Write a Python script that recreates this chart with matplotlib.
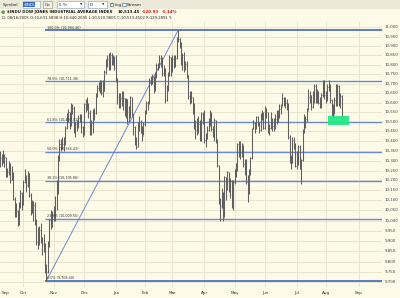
import matplotlib
matplotlib.use('Agg')
import matplotlib.pyplot as plt
import numpy as np
from matplotlib.patches import Rectangle, Circle

# ---------------- DATA (DJIA daily, Sep 9 2004 - Aug 16 2005) ----------------
month_labels = ['Sep', 'Oct', 'Nov', 'Dec', 'Jan', 'Feb', 'Mar', 'Apr', 'May', 'Jun', 'Jul', 'Aug', 'Sep']
month_days = [16, 21, 21, 22, 20, 19, 22, 21, 21, 22, 20, 23]   # trading days per month on the axis

close = [
    # Sep 2004
    10313, 10314, 10314, 10318, 10231, 10244, 10284, 10204, 10244, 10109, 10038, 10047, 9988, 10077, 10136, 10080,
    # Oct
    10192, 10216, 10177, 10239, 10126, 10055, 10081, 10077, 10002, 9894, 9933, 9956, 9897, 9886, 9865, 9758, 9749, 9888, 10002, 10004, 10027,
    # Nov
    10054, 10035, 10137, 10314, 10387, 10391, 10386, 10385, 10470, 10539, 10550, 10487, 10573, 10573, 10456, 10489, 10492, 10520, 10522, 10475, 10428,
    # Dec
    10590, 10585, 10592, 10547, 10440, 10494, 10553, 10543, 10638, 10676, 10691, 10705, 10649, 10661, 10759, 10815, 10828, 10776, 10854, 10829, 10829, 10783,
    # Jan 2005
    10729, 10630, 10597, 10622, 10603, 10622, 10556, 10618, 10505, 10558, 10628, 10539, 10472, 10393, 10368, 10461, 10498, 10467, 10427, 10490,
    # Feb
    10551, 10596, 10593, 10716, 10715, 10725, 10664, 10749, 10796, 10791, 10837, 10834, 10754, 10785, 10611, 10673, 10748, 10841, 10766,
    # Mar
    10830, 10811, 10834, 10941, 10937, 10913, 10806, 10852, 10775, 10805, 10745, 10633, 10627, 10629, 10566, 10471, 10457, 10442, 10486, 10405, 10541, 10504,
    # Apr
    10404, 10421, 10458, 10486, 10546, 10461, 10448, 10507, 10403, 10278, 10087, 10071, 10127, 10012, 10218, 10157, 10242, 10152, 10198, 10071, 10192,
    # May
    10251, 10256, 10384, 10340, 10345, 10384, 10281, 10300, 10190, 10140, 10252, 10313, 10464, 10494, 10471, 10523, 10503, 10457, 10538, 10542, 10467,
    # Jun
    10550, 10553, 10460, 10467, 10483, 10476, 10503, 10512, 10522, 10547, 10566, 10578, 10623, 10609, 10596, 10587, 10421, 10297, 10290, 10406, 10374, 10275,
    # Jul
    10303, 10371, 10270, 10302, 10449, 10519, 10514, 10557, 10628, 10641, 10575, 10646, 10689, 10627, 10652, 10597, 10580, 10637, 10705, 10641,
    # Aug
    10623, 10683, 10698, 10611, 10558, 10536, 10615, 10594, 10686, 10600, 10634, 10513,
]

high = [
    10350, 10335, 10355, 10335, 10320, 10265, 10300, 10290, 10275, 10245, 10115, 10085, 10050, 10090, 10150, 10140,
    10200, 10260, 10230, 10250, 10240, 10135, 10100, 10095, 10090, 10010, 9970, 9975, 9990, 9920, 9935, 9890, 9790, 9900, 10010, 10050, 10045,
    10070, 10120, 10200, 10330, 10410, 10410, 10420, 10420, 10480, 10545, 10565, 10550, 10600, 10590, 10580, 10500, 10510, 10535, 10540, 10540, 10480,
    10600, 10620, 10630, 10600, 10560, 10510, 10565, 10570, 10650, 10690, 10710, 10720, 10720, 10720, 10770, 10830, 10850, 10860, 10868, 10860, 10850, 10845,
    10850, 10730, 10650, 10650, 10660, 10660, 10625, 10625, 10620, 10580, 10635, 10630, 10540, 10480, 10420, 10500, 10530, 10510, 10480, 10500,
    10560, 10610, 10610, 10730, 10740, 10750, 10740, 10760, 10810, 10810, 10850, 10850, 10840, 10800, 10780, 10690, 10760, 10850, 10840,
    10850, 10850, 10850, 10950, 10984, 10945, 10920, 10860, 10870, 10820, 10820, 10745, 10660, 10660, 10630, 10600, 10510, 10520, 10530, 10510, 10550, 10550,
    10560, 10440, 10480, 10520, 10560, 10550, 10480, 10520, 10510, 10410, 10280, 10110, 10160, 10140, 10225, 10220, 10250, 10245, 10210, 10200, 10200,
    10260, 10290, 10390, 10400, 10400, 10390, 10380, 10310, 10310, 10230, 10260, 10320, 10470, 10510, 10500, 10530, 10530, 10500, 10545, 10560, 10550,
    10580, 10570, 10550, 10490, 10550, 10520, 10520, 10540, 10560, 10560, 10590, 10590, 10650, 10630, 10630, 10620, 10600, 10430, 10330, 10420, 10420, 10390,
    10350, 10380, 10380, 10310, 10460, 10540, 10530, 10570, 10670, 10660, 10640, 10660, 10700, 10700, 10670, 10660, 10630, 10650, 10720, 10720,
    10660, 10700, 10720, 10700, 10620, 10590, 10630, 10700, 10700, 10690, 10650, 10640,
]

low = [
    10270, 10275, 10290, 10270, 10215, 10215, 10230, 10185, 10200, 10100, 10020, 10020, 9975, 9980, 10060, 10050,
    10075, 10185, 10140, 10165, 10115, 10030, 10040, 10000, 9980, 9880, 9860, 9880, 9890, 9830, 9845, 9745, 9708, 9745, 9870, 9960, 9970,
    10000, 10000, 10050, 10130, 10300, 10350, 10360, 10350, 10380, 10465, 10500, 10460, 10480, 10540, 10440, 10420, 10450, 10470, 10500, 10440, 10420,
    10430, 10550, 10560, 10520, 10430, 10430, 10440, 10510, 10540, 10630, 10660, 10650, 10640, 10630, 10660, 10750, 10790, 10770, 10770, 10800, 10800, 10770,
    10710, 10590, 10570, 10570, 10580, 10560, 10530, 10520, 10490, 10500, 10520, 10530, 10430, 10380, 10360, 10370, 10450, 10440, 10400, 10430,
    10480, 10540, 10560, 10590, 10690, 10700, 10650, 10660, 10730, 10770, 10780, 10790, 10740, 10740, 10600, 10610, 10660, 10740, 10740,
    10760, 10780, 10790, 10830, 10920, 10890, 10800, 10770, 10760, 10770, 10730, 10620, 10590, 10600, 10540, 10460, 10410, 10430, 10440, 10400, 10400, 10490,
    10390, 10370, 10410, 10450, 10480, 10450, 10420, 10400, 10390, 10270, 10080, 10000, 10060, 10000, 10020, 10100, 10150, 10140, 10110, 10060, 10050,
    10180, 10220, 10250, 10320, 10310, 10320, 10270, 10230, 10180, 10090, 10130, 10230, 10310, 10460, 10440, 10460, 10480, 10440, 10450, 10510, 10460,
    10460, 10520, 10440, 10430, 10460, 10450, 10450, 10460, 10490, 10500, 10520, 10540, 10580, 10580, 10570, 10560, 10410, 10290, 10260, 10290, 10360, 10270,
    10260, 10280, 10260, 10180, 10300, 10440, 10470, 10500, 10560, 10600, 10560, 10570, 10600, 10600, 10600, 10590, 10570, 10570, 10630, 10620,
    10600, 10610, 10660, 10600, 10530, 10520, 10540, 10580, 10580, 10580, 10570, 10511,
]

fib_pct = ['0.0%', '23.6%', '38.2%', '50.0%', '61.8%', '78.6%', '100.0%']
fib_values = [9708.40, 10009.55, 10195.86, 10346.43, 10497.01, 10711.38, 10984.46]

y_ticks = list(range(9700, 11001, 50))

# ---------------- FIGURE ----------------
W, H = 400, 298
BG = '#FDFBE7'
fig = plt.figure(figsize=(W / 100, H / 100), dpi=100)
fig.patch.set_facecolor(BG)


def rect(l, t, r, b):
    return [l / W, 1 - b / H, (r - l) / W, (b - t) / H]


ax = fig.add_axes(rect(0, 22, 382, 287))
ax.set_facecolor(BG)
ax.set_yscale('log')
ax.set_ylim(9677.5, 11029.9)
ax.set_xlim(-0.104, 263.9)
for s in ax.spines.values():
    s.set_visible(False)
ax.set_xticks([])
ax.set_yticks([])
ax.minorticks_off()
ax.yaxis.set_minor_locator(matplotlib.ticker.NullLocator())

n = min(len(close), len(high), len(low))
idx = np.arange(n)

# grid
grid_c = '#E6E3CB'
for v in y_ticks:
    ax.axhline(v, color=grid_c, lw=0.6, zorder=0)
starts = np.concatenate([[0], np.cumsum(month_days)])
month_pos = [int(starts[i]) for i in range(1, len(month_labels))]
for p in month_pos:
    ax.axvline(p, color=grid_c, lw=0.6, zorder=0)

# fib lines
i_low = int(np.argmin(low[:n]))
i_high = int(np.argmax(high[:n]))
fib_c = '#6B89CF'
for pct, v in zip(fib_pct, fib_values):
    edge = pct in ('0.0%', '100.0%')
    ax.hlines(v, i_low - 0.8, 263.9, color='#4E6FC4' if edge else fib_c,
              lw=1.3 if edge else 1.0, zorder=2)
    ax.text(i_low + 0.3, v * 1.0004, f'{pct} ({v:,.2f})', fontsize=2.4,
            color='#333333', ha='left', va='bottom', zorder=4)

# trend line low -> high
ax.plot([i_low, i_high], [fib_values[0], fib_values[-1]], color='#6B89CF', lw=0.7, zorder=2)

# highlight box around 61.8% level near the last bars
hl_level = fib_values[4]
ax.add_patch(Rectangle((n - 10.4, hl_level * 0.99867), 14.5, hl_level * (1.00314 - 0.99867),
                       facecolor='#1FE882', edgecolor='none', alpha=0.92, zorder=5))

# OHLC bars
bar_c = '#606060'
ax.vlines(idx, low[:n], high[:n], color=bar_c, lw=0.75, zorder=3)
ax.hlines(close[:n], idx, idx + 0.5, color=bar_c, lw=0.6, zorder=3)

# right axis labels
ytr = ax.get_yaxis_transform()
for v in y_ticks:
    ax.text(1 + 3 / 382, v, f'{v:,}', transform=ytr, fontsize=2.9, color='#444444',
            ha='left', va='center', clip_on=False)

# month labels
xtr = ax.get_xaxis_transform()
label_pos = [4] + month_pos
for lab, p in zip(month_labels, label_pos):
    ax.text(p, -4 / 265, lab, transform=xtr, fontsize=3.0, color='#333333',
            ha='center', va='top', clip_on=False)

# ---------------- HEADER (overlay in pixel coords) ----------------
ov = fig.add_axes([0, 0, 1, 1])
ov.set_xlim(0, W)
ov.set_ylim(H, 0)
ov.axis('off')
ov.patch.set_alpha(0)

ov.add_patch(Rectangle((0, 0), W, 9, facecolor='#ECE9D8', edgecolor='none'))
fs = 3.0
ov.text(3, 4.8, 'Symbol', fontsize=fs, va='center', ha='left', color='#222222')
ov.add_patch(Rectangle((22.5, 1.2), 17, 6.6, facecolor='white', edgecolor='#7F9DB9', lw=0.4))
ov.add_patch(Rectangle((23.3, 2.0), 11.5, 5.0, facecolor='#316AC5', edgecolor='none'))
ov.text(23.6, 4.6, '$INDU', fontsize=fs, va='center', ha='left', color='white')
ov.add_patch(Rectangle((43, 1.2), 8.5, 6.6, facecolor='#F4F2E8', edgecolor='#8A8A7A', lw=0.4))
ov.text(47.2, 4.6, 'Go', fontsize=fs, va='center', ha='center', color='#222222')
ov.add_patch(Rectangle((57, 1.2), 27, 6.6, facecolor='white', edgecolor='#7F9DB9', lw=0.4))
ov.text(59, 4.6, '5 Yr', fontsize=fs, va='center', ha='left', color='#222222')
ov.text(81.5, 4.6, '\u25BC', fontsize=2.2, va='center', ha='center', color='#333333')
ov.add_patch(Rectangle((88, 1.2), 18.5, 6.6, facecolor='white', edgecolor='#7F9DB9', lw=0.4))
ov.text(90, 4.6, 'D', fontsize=fs, va='center', ha='left', color='#222222')
ov.text(103, 4.6, '\u25BC', fontsize=2.2, va='center', ha='center', color='#333333')
ov.add_patch(Rectangle((109.5, 2.6), 3.6, 3.6, facecolor='white', edgecolor='#1C5180', lw=0.4))
ov.text(111.3, 4.4, '\u2713', fontsize=3.0, va='center', ha='center', color='#21A121')
ov.text(114.5, 4.6, 'Log', fontsize=fs, va='center', ha='left', color='#222222')
ov.add_patch(Rectangle((122, 2.6), 3.6, 3.6, facecolor='white', edgecolor='#1C5180', lw=0.4))
ov.text(126.8, 4.6, 'Stream', fontsize=fs, va='center', ha='left', color='#222222')

ov.add_patch(Circle((3.2, 12.2), 1.5, facecolor='#3DBA3D', edgecolor='#2A7F2A', lw=0.3))
ov.text(7, 12.2, '$INDU DOW JONES INDUSTRIAL AVERAGE INDEX', fontsize=2.75, fontweight='bold',
        va='center', ha='left', color='#111111')
ov.text(117.5, 12.2, '10,513.45', fontsize=2.9, fontweight='bold', va='center', ha='left', color='#111111')
ov.text(142, 12.2, '-120.93', fontsize=2.9, fontweight='bold', va='center', ha='left', color='#E01010')
ov.text(162, 12.2, '-1.14%', fontsize=2.9, fontweight='bold', va='center', ha='left', color='#E01010')
ov.text(2.5, 18.2, 'D: 08/16/2005 O:10,631.5898 H:10,640.2695 L:10,510.9805 C:10,513.4502 R:129.2891 Y:',
        fontsize=2.7, va='center', ha='left', color='#222222')

fig.savefig('out.png', dpi=100, facecolor=BG)
